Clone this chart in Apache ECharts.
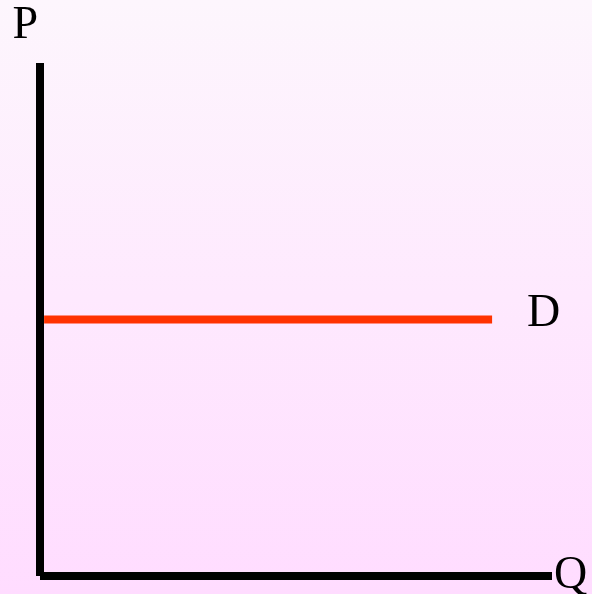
<!DOCTYPE html>
<html>
<head>
<meta charset="utf-8">
<script src="https://cdn.jsdelivr.net/npm/echarts@6/dist/echarts.min.js"></script>
<style>
  html, body { margin: 0; padding: 0; }
  #chart { width: 592px; height: 594px; }
</style>
</head>
<body>
<div id="chart"></div>
<script>
// horizontal demand curve: quantity range and constant price
let quantity = [0.8, 88.3];
let price = [50, 50];
let axisNames = { x: 'Q', y: 'P' };
let curveName = 'D';

let chart = echarts.init(document.getElementById('chart'));
let serif = '"Liberation Serif", "Times New Roman", serif';

let options = {
  backgroundColor: {
    type: 'linear', x: 0, y: 0, x2: 0, y2: 1,
    colorStops: [
      { offset: 0, color: '#fdf6fd' },
      { offset: 1, color: '#ffdcff' }
    ]
  },
  animation: false,
  grid: { left: 40, right: 40, top: 63, bottom: 18, outerBoundsMode: 'none', containLabel: false },
  xAxis: {
    type: 'value',
    min: 0,
    max: 100,
    name: axisNames.x,
    nameLocation: 'end',
    nameGap: 2,
    nameTextStyle: { fontFamily: serif, fontSize: 46, color: '#000', verticalAlign: 'middle', padding: [0, 0, 4, 0] },
    axisLine: { lineStyle: { color: '#000', width: 8, cap: 'butt' } },
    axisTick: { show: false },
    axisLabel: { show: false },
    splitLine: { show: false }
  },
  yAxis: {
    type: 'value',
    min: 0,
    max: 100,
    name: axisNames.y,
    nameLocation: 'end',
    nameGap: 14,
    nameTextStyle: { fontFamily: serif, fontSize: 46, color: '#000', align: 'right', padding: [0, 2, 0, 0] },
    axisLine: { show: true, lineStyle: { color: '#000', width: 8, cap: 'butt' } },
    axisTick: { show: false },
    axisLabel: { show: false },
    splitLine: { show: false }
  },
  series: [
    {
      name: curveName,
      type: 'line',
      data: quantity.map((q, i) => [q, price[i]]),
      symbol: 'none',
      lineStyle: { color: '#ff3300', width: 8, cap: 'butt' },
      endLabel: {
        show: true,
        formatter: curveName,
        distance: 35,
        offset: [0, -6],
        fontFamily: serif,
        fontSize: 46,
        color: '#000'
      }
    }
  ]
};

chart.setOption(options);
</script>
</body>
</html>
